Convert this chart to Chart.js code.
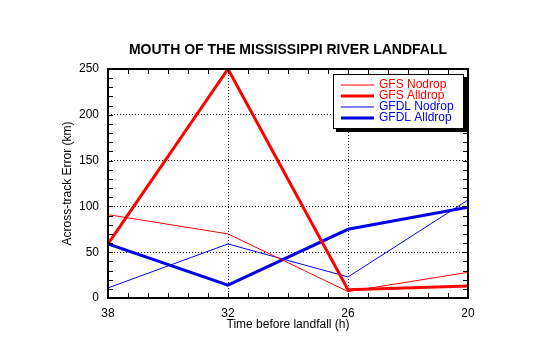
<!DOCTYPE html>
<html>
<head>
<meta charset="utf-8">
<title>Mouth of the Mississippi River Landfall</title>
<script src="https://cdn.jsdelivr.net/npm/chart.js@4/dist/chart.umd.min.js"></script>
<style>
  html, body { margin: 0; padding: 0; background: #ffffff; }
  #chart { display: block; }
</style>
</head>
<body>
<canvas id="chart" width="540" height="344"></canvas>
<script>
// Forecast lead time (hours before landfall)
const hours = [38, 32, 26, 20];
const xTicks = [38, 32, 26, 20];
const yTicks = [0, 50, 100, 150, 200, 250];

// Across-track error (km) for each model / dropsonde configuration
const gfsNodrop   = [91, 70, 7, 28];
const gfsAlldrop  = [59, 250, 9, 13];
const gfdlNodrop  = [11, 59, 23, 107];
const gfdlAlldrop = [59, 14, 75, 99];

const seriesNames = ['GFS Nodrop', 'GFS Alldrop', 'GFDL Nodrop', 'GFDL Alldrop'];
const chartTitle = 'MOUTH OF THE MISSISSIPPI RIVER LANDFALL';

const FONT = '"Liberation Sans", Arial, Helvetica, sans-serif';
const RED = '#ff0000';
const BLUE = '#0000e6';

const toPoints = vals => hours.map((h, i) => ({ x: h, y: vals[i] }));

// Bold title centred over the plot area
const plotTitlePlugin = {
  id: 'plotTitle',
  afterDraw(chart) {
    const { ctx, chartArea: a } = chart;
    ctx.save();
    ctx.font = 'bold 14px ' + FONT;
    ctx.fillStyle = '#000';
    ctx.textAlign = 'center';
    ctx.textBaseline = 'middle';
    ctx.fillText(chartTitle, (a.left + a.right) / 2, a.top - 19);
    ctx.restore();
  }
};

// Frame around the plot plus small inward tick marks on all four sides
const framePlugin = {
  id: 'frame',
  afterDatasetsDraw(chart) {
    const { ctx, chartArea: a, scales: { x, y } } = chart;
    ctx.save();
    ctx.strokeStyle = '#000';
    ctx.lineWidth = 1;
    ctx.beginPath();
    for (let h = 20; h <= 38; h += 1) {
      const px = Math.round(x.getPixelForValue(h)) + 0.5;
      ctx.moveTo(px, a.bottom); ctx.lineTo(px, a.bottom - 5);
      ctx.moveTo(px, a.top); ctx.lineTo(px, a.top + 5);
    }
    for (let v = 0; v <= 250; v += 10) {
      const py = Math.round(y.getPixelForValue(v)) + 0.5;
      ctx.moveTo(a.left, py); ctx.lineTo(a.left + 5, py);
      ctx.moveTo(a.right, py); ctx.lineTo(a.right - 5, py);
    }
    ctx.stroke();
    ctx.lineWidth = 2;
    ctx.strokeRect(Math.round(a.left), Math.round(a.top),
                   Math.round(a.right - a.left), Math.round(a.bottom - a.top));
    ctx.restore();
  }
};

// Boxed legend with a drop shadow in the upper right of the plot
const boxLegendPlugin = {
  id: 'boxLegend',
  afterDraw(chart) {
    const { ctx, chartArea: a } = chart;
    const bx = a.right - 135, by = a.top + 5, bw = 131, bh = 55;
    ctx.save();
    ctx.fillStyle = '#000';
    ctx.fillRect(bx + 3, by + 3, bw, bh);
    ctx.fillStyle = '#fff';
    ctx.fillRect(bx, by, bw, bh);
    ctx.strokeStyle = '#000';
    ctx.lineWidth = 1;
    ctx.strokeRect(bx + 0.5, by + 0.5, bw - 1, bh - 1);
    ctx.font = '12px ' + FONT;
    ctx.textBaseline = 'middle';
    ctx.textAlign = 'left';
    chart.data.datasets.forEach((ds, i) => {
      const cy = by + 11 + i * 11;
      ctx.strokeStyle = ds.borderColor;
      ctx.lineWidth = ds.borderWidth;
      ctx.beginPath();
      ctx.moveTo(bx + 8, cy);
      ctx.lineTo(bx + 41, cy);
      ctx.stroke();
      ctx.fillStyle = ds.borderColor;
      ctx.fillText(ds.label, bx + 46, cy);
    });
    ctx.restore();
  }
};

const majorOnly = (edgeValues) => (c) =>
  (c.tick && edgeValues.includes(c.tick.value)) ? 'rgba(0,0,0,0)' : '#000';

new Chart(document.getElementById('chart'), {
  type: 'line',
  data: {
    datasets: [
      { label: seriesNames[0], data: toPoints(gfsNodrop),   borderColor: RED,  borderWidth: 1 },
      { label: seriesNames[1], data: toPoints(gfsAlldrop),  borderColor: RED,  borderWidth: 3 },
      { label: seriesNames[2], data: toPoints(gfdlNodrop),  borderColor: BLUE, borderWidth: 1 },
      { label: seriesNames[3], data: toPoints(gfdlAlldrop), borderColor: BLUE, borderWidth: 3 }
    ]
  },
  options: {
    responsive: false,
    animation: false,
    devicePixelRatio: 1,
    layout: { padding: { left: 0, right: 72, top: 69, bottom: 0 } },
    elements: {
      point: { radius: 0, hoverRadius: 0 },
      line: { tension: 0, fill: false }
    },
    plugins: {
      legend: { display: false },
      tooltip: { enabled: false },
      title: { display: false }
    },
    scales: {
      x: {
        type: 'linear',
        reverse: true,
        min: 20,
        max: 38,
        afterBuildTicks: s => { s.ticks = xTicks.map(v => ({ value: v })); },
        afterFit: s => { s.height = 46; },
        ticks: { color: '#000', font: { family: FONT, size: 12 }, padding: 8 },
        grid: { drawTicks: false, color: majorOnly([20, 38]), lineWidth: 1 },
        border: { display: false, dash: [1, 2] },
        title: {
          display: true,
          text: 'Time before landfall (h)',
          color: '#000',
          font: { family: FONT, size: 12 },
          padding: { top: 0, bottom: 12 }
        }
      },
      y: {
        min: 0,
        max: 250,
        afterBuildTicks: s => { s.ticks = yTicks.map(v => ({ value: v })); },
        afterFit: s => { s.width = 108; },
        ticks: { color: '#000', font: { family: FONT, size: 12 }, padding: 9 },
        grid: { drawTicks: false, color: majorOnly([0, 250]), lineWidth: 1 },
        border: { display: false, dash: [1, 2] },
        title: {
          display: true,
          text: 'Across-track Error (km)',
          color: '#000',
          font: { family: FONT, size: 12 },
          padding: { top: 60, bottom: 0 }
        }
      }
    }
  },
  plugins: [framePlugin, boxLegendPlugin, plotTitlePlugin]
});
</script>
</body>
</html>
